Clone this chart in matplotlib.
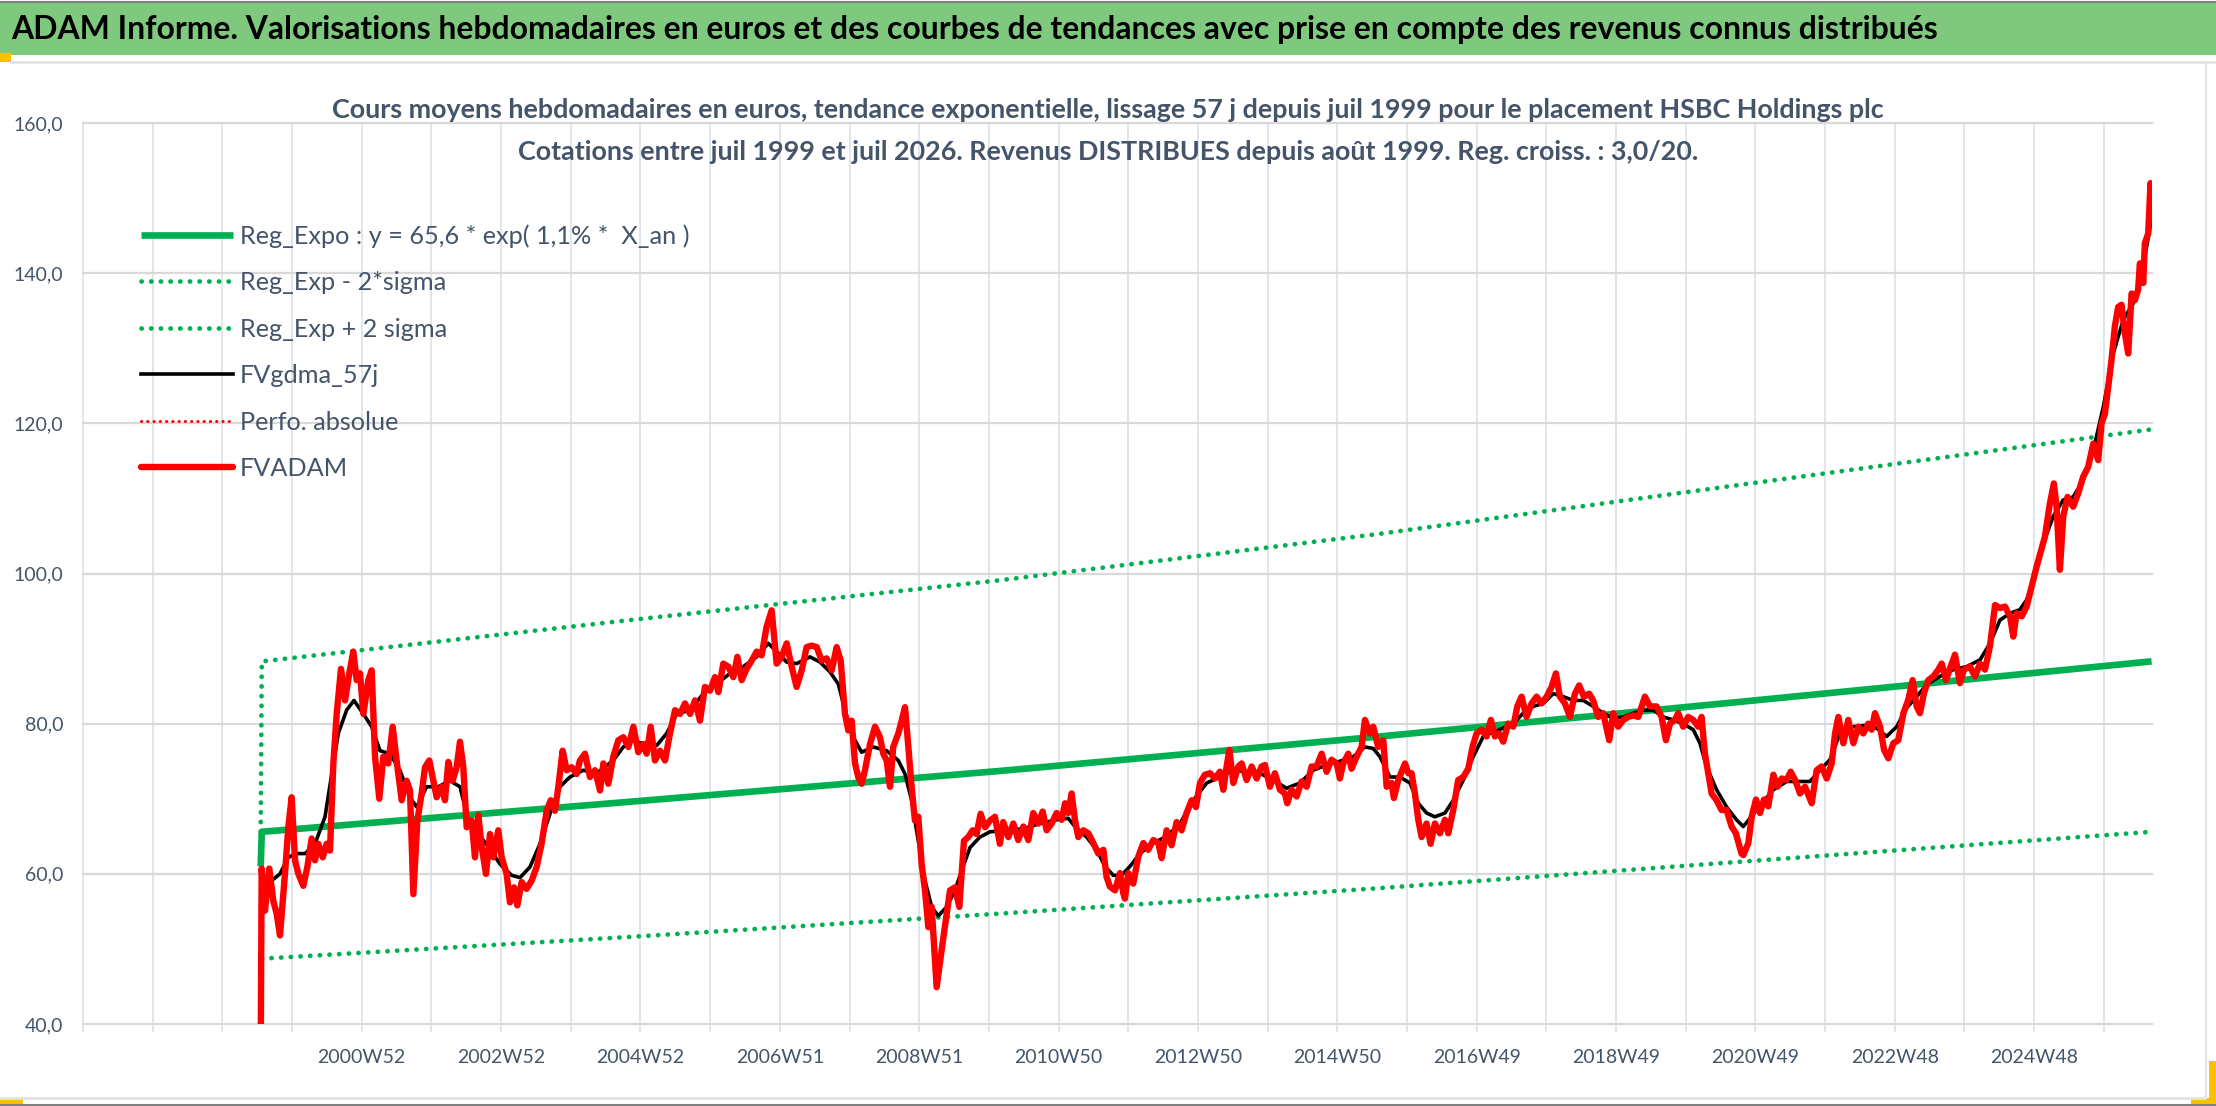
import numpy as np
import matplotlib.pyplot as plt
from matplotlib import font_manager
from matplotlib.patches import Rectangle
from matplotlib.lines import Line2D

# x positions are category indices of the weekly axis (0 = 1996W52, one gridline every 52 weeks)

# FVADAM : weekly valuation (red)
fvadam_week = [
    132.6, 133.3, 135.8, 139.0, 142.0, 144.5, 147.0, 150.7, 153.2, 155.7, 158.2, 160.7, 164.4, 167.4,
    170.6, 173.1, 175.6, 178.9, 181.8, 184.3, 186.8, 189.3, 192.5, 195.5, 198.7, 201.7, 204.2, 206.7,
    209.2, 212.9, 215.4, 217.9, 221.1, 224.1, 227.8, 231.1, 234.0, 237.8, 241.5, 244.0, 246.5, 249.5,
    252.7, 255.2, 258.4, 261.4, 263.9, 267.6, 270.1, 272.6, 275.8, 278.8, 281.3, 283.8, 286.3, 290.0,
    292.5, 295.0, 297.5, 300.7, 303.7, 306.2, 309.9, 312.4, 316.1, 318.6, 321.6, 324.1, 327.3, 331.0,
    334.8, 338.5, 342.2, 346.0, 349.0, 352.2, 354.7, 357.9, 360.9, 364.6, 368.4, 370.8, 374.6, 378.3,
    382.1, 385.8, 388.3, 392.0, 395.7, 399.5, 403.2, 407.0, 410.7, 414.4, 418.1, 420.6, 423.6, 426.8,
    430.5, 434.3, 438.0, 441.8, 445.5, 449.2, 453.0, 456.7, 460.4, 464.1, 467.9, 471.6, 474.1, 477.8,
    481.5, 485.3, 488.3, 491.5, 495.2, 499.0, 502.7, 506.4, 510.1, 513.9, 517.6, 521.3, 525.1, 528.8,
    532.5, 536.3, 540.0, 543.7, 547.5, 551.2, 554.9, 558.7, 562.4, 565.4, 568.6, 571.1, 573.6, 576.1,
    578.5, 581.0, 583.5, 587.3, 591.0, 594.7, 597.2, 599.7, 602.2, 604.6, 608.4, 610.9, 613.4, 615.9,
    618.3, 620.8, 623.3, 625.8, 628.3, 630.8, 633.3, 637.0, 640.7, 644.5, 647.0, 650.7, 653.9, 657.4,
    660.6, 663.9, 666.8, 669.8, 673.1, 676.8, 680.5, 684.2, 686.7, 690.5, 694.2, 697.9, 701.7, 705.4,
    709.1, 712.9, 716.1, 719.1, 722.8, 726.5, 730.3, 732.8, 735.2, 737.7, 740.2, 742.7, 746.4, 750.2,
    753.9, 757.6, 761.4, 763.8, 766.3, 770.1, 773.8, 776.3, 777.5, 780.0, 783.7, 787.5, 791.2, 794.9,
    798.7, 802.4, 804.9, 808.6, 812.3, 816.1, 819.8, 823.5, 827.3, 830.5, 833.5, 837.2, 841.0, 844.7,
    848.4, 850.9, 853.4, 855.4, 858.4, 862.1, 864.6, 868.3, 872.1, 875.8, 879.5, 882.0, 885.7, 889.4,
    893.2, 896.9, 898.6, 901.9, 905.6, 909.3, 913.1, 916.8, 920.5, 924.3, 928.0, 931.7, 935.5, 937.9,
    940.4, 944.2, 946.6, 950.4, 954.1, 956.6, 960.3, 962.8, 966.5, 970.3, 972.8, 976.5, 978.2, 981.5,
    986.5, 989.0, 991.4, 993.9, 996.4, 998.9, 1002.6, 1005.6, 1008.8, 1012.6, 1016.3, 1018.8, 1022.5,
    1026.2, 1030.0, 1033.7, 1036.9, 1039.9, 1043.7, 1047.4, 1050.6, 1053.6, 1056.8, 1059.8, 1063.5,
    1067.3, 1070.3, 1073.5, 1077.2, 1081.0, 1084.7, 1088.4, 1092.2, 1095.9, 1099.1, 1102.1, 1105.8,
    1109.6, 1113.3, 1116.5, 1120.0, 1123.9, 1126.9, 1130.7, 1134.4, 1138.9, 1141.9, 1145.6, 1149.4,
    1153.1, 1156.8, 1160.6, 1165.5, 1169.3, 1174.2, 1178.0, 1181.2, 1184.2, 1187.9, 1190.4, 1194.1,
    1197.8, 1201.6, 1205.3, 1207.8, 1210.3, 1212.8, 1215.3, 1219.0, 1222.7, 1226.5, 1230.2, 1233.4,
    1237.6, 1239.0, 1242.7, 1245.2, 1248.4, 1251.4, 1254.4, 1257.6, 1261.4, 1264.4, 1267.6, 1271.3,
    1274.3, 1277.6, 1281.3, 1285.0, 1290.0, 1293.7, 1297.4, 1301.2, 1304.9, 1307.4, 1309.9, 1313.6,
    1317.3, 1321.1, 1324.8, 1328.5, 1332.2, 1334.7, 1337.2, 1341.0, 1344.0, 1347.2, 1350.9, 1354.6,
    1358.4, 1362.1, 1365.3, 1368.3, 1370.8, 1373.8, 1377.0, 1380.8, 1384.5, 1387.0, 1390.2, 1393.7,
    1396.9, 1400.6, 1403.6, 1408.1, 1411.8, 1415.6, 1419.3, 1423.0, 1426.8, 1430.5, 1434.2, 1438.0,
    1440.4, 1442.9, 1446.7, 1450.4, 1452.8, 1457.8, 1464.0, 1467.7, 1470.7, 1472.7, 1475.2, 1477.7,
    1480.9, 1485.1, 1488.9, 1492.6, 1496.3, 1500.1, 1503.8, 1506.3, 1508.8, 1511.3, 1513.7, 1516.2,
    1518.7, 1521.2, 1523.7, 1526.2, 1528.7, 1531.1, 1533.6, 1534.9, 1537.4, 1538.6, 1541.1, 1542.8,
    1543.6,
]
fvadam_value = [
    36.0, 60.7, 55.1, 60.7, 56.4, 54.7, 51.8, 60.0, 66.2, 70.2, 61.8, 60.0, 58.4, 60.9,
    64.7, 61.8, 64.0, 62.2, 64.0, 63.1, 74.7, 81.3, 87.3, 83.1, 86.7, 89.6, 85.8, 86.7,
    81.3, 85.8, 87.1, 75.6, 70.0, 75.6, 74.7, 79.6, 75.1, 69.8, 72.4, 71.1, 57.3, 67.1,
    70.7, 74.2, 75.1, 72.4, 70.2, 71.6, 69.8, 74.9, 72.4, 74.2, 77.6, 74.2, 66.2, 67.1,
    62.2, 67.8, 63.6, 60.0, 65.3, 62.2, 65.8, 62.2, 60.0, 56.2, 58.2, 55.8, 58.9, 58.0,
    59.1, 60.9, 64.0, 68.4, 69.8, 68.4, 71.6, 76.4, 73.8, 74.2, 73.3, 75.1, 76.0, 72.9,
    73.8, 71.1, 74.7, 72.0, 75.6, 77.8, 78.2, 76.9, 79.6, 76.2, 77.3, 76.0, 79.6, 75.1,
    76.4, 75.1, 78.7, 81.8, 81.3, 82.7, 81.3, 83.1, 80.4, 84.9, 84.4, 86.2, 84.2, 88.0,
    87.6, 86.2, 88.9, 85.8, 87.3, 88.4, 89.6, 89.1, 92.9, 95.1, 88.0, 88.9, 90.7, 87.6,
    84.9, 87.1, 90.2, 90.4, 90.2, 88.4, 88.7, 87.1, 90.2, 88.4, 81.3, 79.1, 80.4, 74.7,
    72.9, 72.0, 73.8, 77.3, 79.6, 78.2, 76.0, 75.1, 71.6, 76.9, 78.7, 80.4, 82.2, 76.9,
    71.6, 67.1, 67.6, 61.3, 57.8, 52.9, 55.6, 44.9, 49.8, 54.7, 57.8, 58.2, 55.6, 64.4,
    64.9, 65.8, 65.3, 68.0, 66.2, 67.1, 67.6, 64.0, 66.9, 64.9, 66.7, 64.5, 66.3, 64.5,
    68.1, 66.7, 68.3, 65.8, 66.7, 68.1, 67.2, 69.4, 68.1, 70.7, 67.2, 64.9, 65.8, 65.4,
    64.1, 62.7, 63.2, 59.6, 58.3, 57.8, 60.1, 57.4, 56.7, 60.1, 58.7, 62.3, 64.1, 63.2,
    64.5, 64.1, 62.1, 65.8, 63.8, 66.9, 65.8, 68.1, 69.8, 68.9, 72.1, 73.2, 73.4, 72.7,
    73.6, 71.2, 74.3, 76.5, 72.1, 74.3, 74.7, 72.5, 74.3, 72.7, 74.3, 74.5, 71.6, 73.4,
    71.2, 70.7, 69.4, 71.2, 70.3, 72.3, 71.6, 74.3, 74.3, 76.0, 73.6, 75.2, 74.7, 72.7,
    74.7, 76.0, 74.0, 75.6, 76.9, 80.5, 78.7, 79.6, 76.9, 77.8, 71.6, 72.1, 70.1, 72.5,
    74.7, 73.4, 73.4, 70.7, 67.2, 64.9, 66.7, 64.0, 66.7, 65.4, 67.2, 65.4, 68.5,
    72.5, 72.9, 74.0, 76.9, 78.7, 79.2, 78.3, 80.5, 78.3, 78.7, 77.6, 80.0,
    79.6, 82.3, 83.6, 80.9, 82.7, 83.6, 82.7, 83.6, 84.9, 86.7, 83.6, 82.7,
    80.9, 84.0, 85.1, 83.6, 84.0, 83.1, 80.9, 81.4, 77.8, 81.4, 79.6, 80.5,
    80.9, 81.1, 80.9, 83.6, 82.3, 82.3, 80.9, 77.8, 80.0, 80.5, 81.4, 79.6,
    80.9, 80.5, 79.6, 80.9, 76.0, 73.4, 70.7, 69.8, 68.5, 68.5, 66.3, 65.4,
    62.7, 62.5, 64.1, 67.6, 69.9, 68.1, 69.9, 69.0, 73.2, 71.6, 72.7, 72.5,
    73.6, 72.5, 70.7, 71.6, 69.4, 73.8, 74.3, 72.7, 74.7, 78.7, 80.9, 77.4,
    80.5, 77.4, 79.6, 78.7, 80.0, 79.2, 81.4, 79.6, 76.5, 75.4, 77.4, 77.8,
    81.4, 83.2, 85.8, 82.3, 81.4, 84.1, 85.8, 86.3, 87.2, 88.0, 85.8, 87.6,
    89.2, 85.4, 87.2, 87.6, 86.3, 88.0, 87.2, 90.3, 95.8, 95.4, 95.6, 94.3,
    91.6, 94.7, 94.3, 95.6, 97.3, 100.9, 104.9, 109.3, 112.0, 108.9, 100.5, 107.6,
    110.2, 108.9, 110.7, 112.9, 114.2, 117.3, 115.1, 120.0, 121.3, 124.9, 128.4, 132.9,
    135.5, 135.8, 132.0, 129.3, 137.3, 136.4, 137.8, 141.3, 138.7, 144.0, 145.3, 152.0,
    148.4,
]

# FVgdma_57j : 57-day smoothed valuation (black)
gdma_week = [
    140.8, 147.0, 153.2, 159.4, 165.7, 173.1, 180.6, 185.6, 190.5, 196.7, 202.2, 209.2, 215.4, 221.6,
    229.1, 236.5, 244.0, 249.0, 256.4, 265.1, 273.8, 281.3, 287.5, 295.0, 302.4, 311.2, 319.9, 326.1,
    333.5, 341.0, 348.5, 355.9, 363.4, 373.3, 383.3, 395.7, 403.2, 410.7, 418.1, 428.1, 435.5, 443.0,
    453.0, 462.9, 472.9, 482.8, 492.7, 502.7, 511.4, 517.6, 525.1, 532.5, 542.5, 550.0, 557.4, 563.6,
    568.6, 574.8, 581.0, 589.7, 599.7, 608.4, 613.4, 618.3, 623.3, 628.3, 633.3, 638.2, 644.5, 650.7,
    655.6, 661.9, 669.3, 676.8, 689.2, 701.7, 714.1, 726.5, 735.2, 740.2, 748.9, 756.4, 762.6, 768.8,
    775.0, 781.3, 788.7, 798.7, 808.6, 818.6, 828.5, 838.5, 848.4, 858.4, 868.3, 878.2, 888.2, 898.1,
    908.1, 918.0, 928.0, 937.9, 947.9, 956.6, 962.8, 967.8, 975.3, 982.7, 990.2, 996.4, 1002.6, 1008.8,
    1016.3, 1022.5, 1030.0, 1037.4, 1044.9, 1052.4, 1059.8, 1067.3, 1074.7, 1082.2, 1089.7, 1097.1,
    1104.6, 1112.1, 1119.5, 1127.0, 1134.4, 1141.9, 1149.4, 1156.8, 1164.3, 1171.7, 1179.2, 1186.7,
    1194.1, 1201.6, 1206.6, 1211.5, 1219.0, 1226.5, 1233.9, 1238.9, 1244.0, 1251.4, 1261.4, 1271.3,
    1281.3, 1288.7, 1296.2, 1303.6, 1311.1, 1321.1, 1331.0, 1338.5, 1345.9, 1353.4, 1360.8, 1368.3,
    1375.8, 1385.7, 1395.7, 1405.6, 1415.6, 1423.0, 1430.5, 1438.0, 1445.4, 1450.4, 1455.3, 1462.8,
    1470.2, 1477.7, 1485.1, 1492.6, 1500.1, 1507.6, 1515.0, 1522.5, 1530.0, 1537.4, 1543.6,
]
gdma_value = [
    59.1, 60.0, 62.2, 62.7, 62.7, 64.0, 67.6, 73.3, 78.7, 81.8, 83.1, 81.3, 79.6, 76.4,
    76.0, 73.8, 70.2, 68.9, 71.6, 71.6, 72.4, 71.6, 67.1, 65.3, 63.6, 61.3, 59.8, 59.5,
    60.9, 64.0, 68.0, 71.6, 72.9, 73.8, 73.4, 75.1, 76.9, 77.8, 77.3, 77.1, 78.7, 81.3,
    81.8, 84.0, 85.3, 86.7, 87.6, 88.9, 90.7, 89.6, 88.2, 88.0, 88.9, 88.2, 86.9, 85.3,
    81.8, 78.2, 76.2, 76.9, 76.4, 75.1, 73.3, 69.8, 64.4, 59.1, 55.6, 54.4, 55.6, 57.8,
    60.4, 63.5, 64.9, 65.6, 65.8, 66.0, 66.7, 67.2, 67.4, 66.3, 64.9, 63.2, 61.0, 59.8,
    59.8, 61.0, 62.7, 64.1, 65.0, 66.7, 69.8, 72.1, 72.9, 73.8, 73.6, 73.4, 72.5, 71.4,
    72.1, 73.8, 74.5, 75.0, 75.6, 76.9, 76.7, 75.6, 72.9, 72.9, 72.1, 69.4, 68.1, 67.6,
    68.1, 69.8, 72.5, 75.6, 78.3, 78.9, 79.4, 80.0, 81.4, 82.3, 82.7, 84.0,
    83.6, 83.1, 83.1, 82.3, 81.4, 80.7, 80.9, 81.4, 81.8, 81.8, 80.9, 80.5,
    80.0, 79.2, 77.4, 74.3, 71.2, 68.9, 67.2, 66.3, 67.4, 69.1, 71.2, 72.3,
    72.3, 72.3, 73.8, 75.2, 78.7, 79.6, 79.8, 79.4, 78.3, 79.6, 82.1, 83.6,
    85.2, 86.3, 87.2, 87.6, 88.5, 90.7, 93.8, 94.7, 95.2, 96.5, 99.1, 104.0,
    107.6, 109.8, 110.2, 112.4, 116.4, 122.2, 129.3, 133.8, 136.0, 140.9, 147.3,
]

# exponential regression and +/- 2 sigma channel
trend_week = [132.6, 133.4, 408.0, 684.0, 968.0, 1236.0, 1543.6]
reg_expo = [61.0, 65.6, 69.6, 73.7, 78.3, 82.9, 88.3]
reg_low = [48.7, 48.7, 51.6, 54.7, 58.1, 61.6, 65.6]
reg_high = [65.6, 88.3, 93.8, 99.1, 105.3, 111.8, 119.2]

x_labels = ['2000W52', '2002W52', '2004W52', '2006W51', '2008W51', '2010W50', '2012W50',
            '2014W50', '2016W49', '2018W49', '2020W49', '2022W48', '2024W48']
y_ticks = [40, 60, 80, 100, 120, 140, 160]

legend_labels = ['Reg_Expo : y = 65,6 * exp( 1,1% *  X_an )', 'Reg_Exp - 2*sigma',
                 'Reg_Exp + 2 sigma', 'FVgdma_57j', 'Perfo. absolue', 'FVADAM']

title = ('ADAM Informe. Valorisations hebdomadaires en euros et des courbes de tendances '
         'avec prise en compte des revenus connus distribués')
subtitle1 = ('Cours moyens hebdomadaires en euros, tendance exponentielle, lissage 57 j depuis '
             'juil 1999 pour le placement HSBC Holdings plc')
subtitle2 = ('Cotations entre juil 1999 et juil 2026. Revenus DISTRIBUES depuis août 1999. '
             'Reg. croiss. : 3,0/20.')

# Calibri is not available: Lato is the closest humanist face, sizes are fitted to widths
installed = {f.name for f in font_manager.fontManager.ttflist}
main_font = 'Lato' if 'Lato' in installed else 'Roboto'
plt.rcParams['font.family'] = [main_font, 'DejaVu Sans']

GREEN = '#00B050'
RED = '#FF0000'
TXT = '#44546A'

fig = plt.figure(figsize=(22.16, 11.06), dpi=100)
renderer = fig.canvas.get_renderer()


def size_for(text, width_px, weight='normal'):
    # font size (pt) that gives the text the wanted pixel width
    t = fig.text(0, 0, text, fontsize=20, fontweight=weight)
    w = t.get_window_extent(renderer).width
    t.remove()
    return 20 * width_px / w


# banner and frame of the Excel sheet
fig.add_artist(Rectangle((0, 0.9503), 1, 0.047, transform=fig.transFigure,
                         facecolor='#7FC97F', edgecolor='none'))
fig.add_artist(Line2D([0, 1], [0.9985, 0.9985], transform=fig.transFigure, color='#808080', lw=1.5))
fig.add_artist(Line2D([0.005, 1], [0.9440, 0.9440], transform=fig.transFigure, color='#E3E3E3', lw=2))
fig.add_artist(Line2D([0, 0.995], [0.0075, 0.0075], transform=fig.transFigure, color='#E3E3E3', lw=2))
fig.add_artist(Line2D([0, 1], [0.001, 0.001], transform=fig.transFigure, color='#808080', lw=1.5))
fig.add_artist(Line2D([0.9955, 0.9955], [0.0075, 0.944], transform=fig.transFigure, color='#E3E3E3', lw=1.5))
fig.add_artist(Rectangle((0, 0.944), 0.005, 0.008, transform=fig.transFigure,
                         facecolor='#FFC000', edgecolor='none'))
fig.add_artist(Rectangle((0, 0.0), 0.0105, 0.0065, transform=fig.transFigure,
                         facecolor='#FFC000', edgecolor='none'))
fig.add_artist(Rectangle((0.9968, 0.0), 0.0032, 0.0407, transform=fig.transFigure,
                         facecolor='#FFC000', edgecolor='none'))
fig.add_artist(Rectangle((0.9887, 0.0), 0.0113, 0.0075, transform=fig.transFigure,
                         facecolor='#FFC000', edgecolor='none'))

fig.text(0.005, 0.9735, title, fontsize=size_for(title, 1928, 'bold'), fontweight='bold',
         color='black', ha='left', va='center')
sub_size = size_for(subtitle1, 1557, 'bold')
fig.text(0.5, 0.9005, subtitle1, fontsize=sub_size, fontweight='bold', color=TXT,
         ha='center', va='center')
fig.text(0.5, 0.8626, subtitle2, fontsize=sub_size, fontweight='bold', color=TXT,
         ha='center', va='center')

ax = fig.add_axes([0.03746, 0.07414, 0.9337, 0.8146])

ax.plot(trend_week, reg_expo, color=GREEN, lw=4.8, solid_capstyle='butt',
        label=legend_labels[0], zorder=3)
ax.plot(trend_week[1:], reg_low[1:], color=GREEN, lw=3.4, linestyle=(0, (0.05, 2.0)),
        dash_capstyle='round', label=legend_labels[1], zorder=3)
ax.plot(trend_week, reg_high, color=GREEN, lw=3.4, linestyle=(0, (0.05, 2.0)),
        dash_capstyle='round', label=legend_labels[2], zorder=3)
ax.plot(gdma_week, gdma_value, color='black', lw=2.6, solid_joinstyle='round',
        label=legend_labels[3], zorder=4)
ax.plot([], [], color=RED, lw=2.2, linestyle=(0, (0.05, 2.0)), dash_capstyle='round',
        label=legend_labels[4])
ax.plot(fvadam_week, fvadam_value, color=RED, lw=4.6, solid_joinstyle='round',
        solid_capstyle='round', label=legend_labels[5], zorder=5)

ax.set_xlim(0, 1544)
ax.set_ylim(40, 160)

tick_size = size_for('2000W52', 88)
grid_pos = np.arange(0, 1544, 52)
ax.set_xticks(grid_pos)
lab = [''] * len(grid_pos)
for i, t in enumerate(x_labels):
    lab[4 + 2 * i] = t
ax.set_xticklabels(lab)
ax.set_yticks(y_ticks)
ax.set_yticklabels([f'{v:.1f}'.replace('.', ',') for v in y_ticks])

ax.grid(axis='x', color='#DCE1E8', lw=1.2)
ax.grid(axis='y', color='#D9D9D9', lw=1.6)
ax.set_axisbelow(True)
for gl in ax.get_xgridlines() + ax.get_ygridlines():
    gl.set_clip_on(False)
ax.tick_params(axis='x', direction='out', length=6, width=1.2, color='#DCE1E8',
               labelsize=tick_size, labelcolor=TXT, pad=12)
ax.tick_params(axis='y', length=0, labelsize=tick_size, labelcolor=TXT, pad=14)
for s in ax.spines.values():
    s.set_visible(False)

leg_size = size_for(legend_labels[0], 450)
leg_px = leg_size * 100 / 72
leg = ax.legend(loc='upper left', bbox_to_anchor=(0.0636, 0.7975), bbox_transform=fig.transFigure,
                frameon=False, fontsize=leg_size, handlelength=92 / leg_px,
                handletextpad=7 / leg_px, labelspacing=(48.8 - leg_px) / leg_px,
                borderpad=0, borderaxespad=0)
for t in leg.get_texts():
    t.set_color(TXT)

fig.savefig('out.png', dpi=100)
